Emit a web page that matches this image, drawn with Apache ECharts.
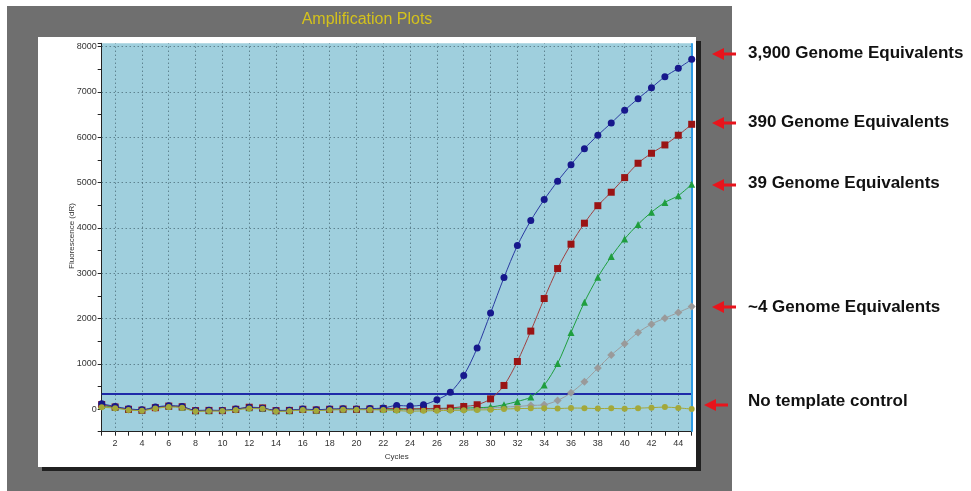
<!DOCTYPE html>
<html>
<head>
<meta charset="utf-8">
<script src="https://cdn.jsdelivr.net/npm/echarts@6/dist/echarts.min.js"></script>
<style>
html,body{margin:0;padding:0;background:#ffffff;}
#chart{width:971px;height:491px;}
</style>
</head>
<body>
<div id="chart"></div>
<script>
// ---------- data ----------
const cycles = [1,2,3,4,5,6,7,8,9,10,11,12,13,14,15,16,17,18,19,20,21,22,23,24,25,26,27,28,29,30,31,32,33,34,35,36,37,38,39,40,41,42,43,44,45];
const ge3900 = [117,57,5,-15,44,73,57,-30,-25,-30,0,35,20,-30,-28,0,-15,0,5,0,10,22,80,66,95,205,370,741,1346,2118,2903,3609,4161,4624,5030,5396,5749,6045,6316,6596,6852,7094,7337,7522,7721];
const ge390 = [100,45,-5,-25,30,65,50,-35,-30,-35,-5,40,25,-35,-30,-5,-20,-5,0,-5,0,10,15,5,10,15,22,57,95,225,521,1050,1721,2440,3102,3640,4103,4490,4787,5110,5427,5647,5831,6045,6287];
const ge39 = [80,40,-10,-20,35,60,45,-40,-35,-30,-10,30,15,-40,-35,-10,-25,-10,-5,-5,-5,0,-5,0,5,10,15,20,30,44,95,168,265,529,1006,1690,2360,2912,3366,3757,4077,4346,4562,4712,4963];
const ge4 = [60,30,-15,-30,20,55,40,-45,-40,-40,-15,20,10,-45,-40,-15,-30,-15,-10,-10,-10,-15,-20,-20,-15,-10,-15,-20,0,22,44,57,80,95,190,360,605,904,1191,1441,1690,1875,2007,2131,2264];
const ntc = [40,20,-20,-35,10,45,30,-50,-45,-45,-20,10,5,-50,-45,-20,-35,-20,-15,-15,-15,-20,-30,-50,-40,-35,-30,-25,-20,-15,0,10,15,20,10,22,20,10,15,5,20,30,44,25,0];
const threshold = 330;
const cursorCycle = 45;
const gridCycles = [2,4,6,8,10,12,14,16,18,20,22,24,26,28,30,32,34,36,38,40,42,44];
const gridValues = [1000,2000,3000,4000,5000,6000,7000,8000];
const annotations = [
  "3,900 Genome Equivalents",
  "390 Genome Equivalents",
  "39 Genome Equivalents",
  "~4 Genome Equivalents",
  "No template control"
];
const titleText = "Amplification Plots";
const yName = "Fluorescence (dR)";
const xName = "Cycles";

// ---------- layout ----------
const annY = [53, 122, 183, 307, 401];
const arrowY = [54, 123, 185, 307, 405];
const arrowTip = [712, 712, 712, 712, 704];

function pairs(vals){ return cycles.map((c,i)=>[c, vals[i]]); }

const chart = echarts.init(document.getElementById('chart'), null, {renderer:'canvas'});

const graphics = [
  {type:'rect', z:-100, shape:{x:7,y:6,width:725,height:485}, style:{fill:'#6f6f6f'}},
  {type:'rect', z:-99, shape:{x:42,y:41,width:659,height:430}, style:{fill:'#202020'}},
  {type:'rect', z:-98, shape:{x:38,y:37,width:658,height:430}, style:{fill:'#ffffff'}},
  {type:'text', z:10, style:{text:titleText, x:367, y:20, align:'center', verticalAlign:'middle',
     fill:'#d4c21c', font:'16px "Liberation Sans", Arial, sans-serif'}},
  {type:'text', z:10, x:72, y:236, rotation:Math.PI/2,
     style:{text:yName, x:0, y:0, align:'center', verticalAlign:'middle',
     fill:'#333333', font:'8px "Liberation Sans", Arial, sans-serif'}}
];
annotations.forEach((t,i)=>{
  graphics.push({type:'text', z:10, style:{text:t, x:748, y:annY[i], verticalAlign:'middle', align:'left',
    fill:'#111111', font:'bold 17px "Liberation Sans", Arial, sans-serif'}});
  const tip = arrowTip[i], y = arrowY[i];
  graphics.push({type:'polygon', z:10, shape:{points:[[tip,y],[tip+12,y-6],[tip+12,y+6]]}, style:{fill:'#e8141c'}});
  graphics.push({type:'rect', z:10, shape:{x:tip+11,y:y-1.5,width:13,height:3}, style:{fill:'#e8141c'}});
});

const dotted = {color:'#40606e', width:1, type:[1,3]};

const option = {
  animation:false,
  backgroundColor:'#ffffff',
  graphic: graphics,
  grid:{left:101.7, right:279.3, top:43.3, bottom:59.3, show:true, backgroundColor:'#9fcfdd', borderWidth:0},
  xAxis:{
    type:'value', min:1, max:45, interval:1,
    name:xName, nameLocation:'middle', nameGap:18,
    nameTextStyle:{fontSize:8, color:'#333', fontFamily:'Liberation Sans, Arial'},
    axisLine:{show:true, onZero:false, lineStyle:{color:'#222', width:1}},
    axisTick:{show:true, length:4, lineStyle:{color:'#222'}},
    axisLabel:{fontSize:9, color:'#333', margin:7, fontFamily:'Liberation Sans, Arial',
      formatter:v=> (v%2===0 ? String(v) : '')},
    splitLine:{show:false}
  },
  yAxis:{
    type:'value', min:-500, max:8075, interval:500,
    axisLine:{show:true, onZero:false, lineStyle:{color:'#222', width:1}},
    axisTick:{show:true, length:4, lineStyle:{color:'#222'}},
    axisLabel:{fontSize:9, color:'#333', margin:5, fontFamily:'Liberation Sans, Arial',
      formatter:v=> (v>=0 && v%1000===0 ? String(v) : '')},
    splitLine:{show:false}
  },
  series:[
    {type:'line', name:'grid', data:[], silent:true,
     markLine:{silent:true, symbol:'none', label:{show:false}, lineStyle:dotted, animation:false,
       data: gridCycles.map(c=>({xAxis:c})).concat(gridValues.map(v=>({yAxis:v})))}},
    {type:'line', name:'threshold', data:[], silent:true, z:3,
     markLine:{silent:true, symbol:'none', label:{show:false}, animation:false,
       lineStyle:{color:'#1f2aa8', width:2, type:'solid'},
       data:[{yAxis:threshold}]}},
    {type:'line', name:'cursor', data:[], silent:true, z:3,
     markLine:{silent:true, symbol:'none', label:{show:false}, animation:false,
       lineStyle:{color:'#2c9be6', width:2, type:'solid'},
       data:[{xAxis:cursorCycle}]}},
    {type:'line', name:'~4', data:pairs(ge4), smooth:0.3, symbol:'diamond', symbolSize:8,
     lineStyle:{color:'#9c9c9c', width:1}, itemStyle:{color:'#9a9a9a'}, z:5},
    {type:'line', name:'39', data:pairs(ge39), smooth:0.3, symbol:'triangle', symbolSize:7,
     lineStyle:{color:'#1f9e3e', width:1}, itemStyle:{color:'#1f9e3e'}, z:6},
    {type:'line', name:'390', data:pairs(ge390), smooth:0.3, symbol:'rect', symbolSize:7,
     lineStyle:{color:'#a04040', width:1}, itemStyle:{color:'#9a1414'}, z:7},
    {type:'line', name:'3900', data:pairs(ge3900), smooth:0.3, symbol:'circle', symbolSize:7,
     lineStyle:{color:'#2a3aa0', width:1}, itemStyle:{color:'#17188c'}, z:8},
    {type:'line', name:'NTC', data:pairs(ntc), smooth:0.3, symbol:'circle', symbolSize:6,
     lineStyle:{color:'#a3a83a', width:1}, itemStyle:{color:'#a3a83a'}, z:9}
  ]
};
chart.setOption(option);
</script>
</body>
</html>
